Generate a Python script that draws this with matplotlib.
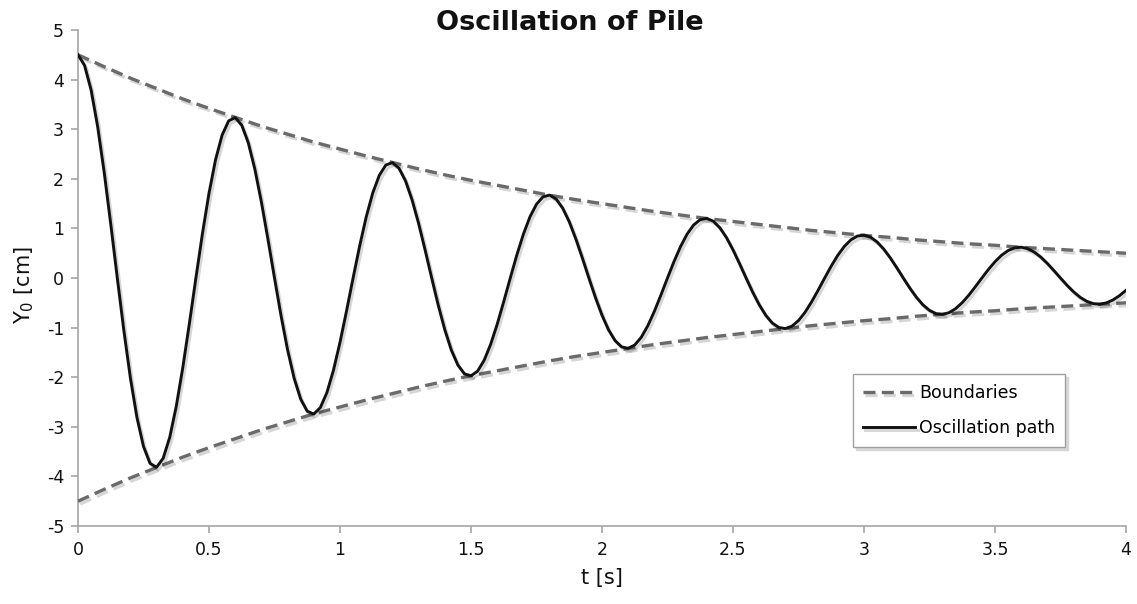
import matplotlib
matplotlib.use("Agg")
import matplotlib.pyplot as plt
import matplotlib.patheffects as pe
from matplotlib.ticker import FuncFormatter, MultipleLocator

# ---- data ----
t_bound = [round(0.1 * i, 1) for i in range(41)]
upper_bound = [4.50, 4.26, 4.03, 3.82, 3.61, 3.42, 3.24, 3.06, 2.90, 2.74,
               2.60, 2.46, 2.33, 2.20, 2.08, 1.97, 1.87, 1.77, 1.67, 1.58,
               1.50, 1.42, 1.34, 1.27, 1.20, 1.14, 1.08, 1.02, 0.96, 0.91,
               0.86, 0.82, 0.77, 0.73, 0.69, 0.66, 0.62, 0.59, 0.56, 0.53,
               0.50]
lower_bound = [-4.50, -4.26, -4.03, -3.82, -3.61, -3.42, -3.24, -3.06, -2.90, -2.74,
               -2.60, -2.46, -2.33, -2.20, -2.08, -1.97, -1.87, -1.77, -1.67, -1.58,
               -1.50, -1.42, -1.34, -1.27, -1.20, -1.14, -1.08, -1.02, -0.96, -0.91,
               -0.86, -0.82, -0.77, -0.73, -0.69, -0.66, -0.62, -0.59, -0.56, -0.53,
               -0.50]

t_path = [round(0.025 * i, 3) for i in range(161)]
y_path = [
    4.500, 4.287, 3.791, 3.053, 2.130, 1.087, 0.000, -1.058,
    -2.016, -2.812, -3.396, -3.737, -3.816, -3.635, -3.215, -2.589,
    -1.806, -0.922, 0.000, 0.897, 1.709, 2.384, 2.880, 3.168,
    3.235, 3.082, 2.726, 2.195, 1.531, 0.782, 0.000, -0.760,
    -1.449, -2.021, -2.442, -2.686, -2.743, -2.613, -2.311, -1.861,
    -1.298, -0.663, 0.000, 0.645, 1.229, 1.714, 2.070, 2.278,
    2.326, 2.216, 1.960, 1.578, 1.101, 0.562, 0.000, -0.547,
    -1.042, -1.453, -1.755, -1.931, -1.972, -1.879, -1.662, -1.338,
    -0.933, -0.476, 0.000, 0.464, 0.883, 1.232, 1.488, 1.637,
    1.672, 1.593, 1.409, 1.135, 0.791, 0.404, 0.000, -0.393,
    -0.749, -1.045, -1.262, -1.388, -1.418, -1.351, -1.195, -0.962,
    -0.671, -0.343, 0.000, 0.333, 0.635, 0.886, 1.070, 1.177,
    1.202, 1.145, 1.013, 0.816, 0.569, 0.290, 0.000, -0.283,
    -0.538, -0.751, -0.907, -0.998, -1.019, -0.971, -0.859, -0.692,
    -0.482, -0.246, 0.000, 0.240, 0.457, 0.637, 0.769, 0.846,
    0.864, 0.823, 0.728, 0.586, 0.409, 0.209, 0.000, -0.203,
    -0.387, -0.540, -0.652, -0.718, -0.733, -0.698, -0.617, -0.497,
    -0.347, -0.177, 0.000, 0.172, 0.328, 0.458, 0.553, 0.608,
    0.621, 0.592, 0.523, 0.422, 0.294, 0.150, 0.000, -0.146,
    -0.278, -0.388, -0.469, -0.516, -0.527, -0.502, -0.444, -0.357,
    -0.249,
]

title = "Oscillation of Pile"
xlabel = "t [s]"
ylabel = "Y$_0$ [cm]"
legend_labels = ["Boundaries", "Oscillation path"]

# ---- figure ----
plt.rcParams['font.family'] = ['DejaVu Sans']
plt.rcParams['mathtext.default'] = 'regular'
fig = plt.figure(figsize=(11.37, 6.04), dpi=100)
ax = fig.add_axes([0.0686, 0.1291, 0.9217, 0.8212])

shadow = [pe.SimpleLineShadow(offset=(1.5, -2.0), alpha=0.16, shadow_color='k'), pe.Normal()]

bcol = '#6a6a6a'
l1, = ax.plot(t_bound, upper_bound, color=bcol, lw=2.4, dashes=(3.6, 1.9),
              path_effects=shadow, label=legend_labels[0], zorder=3)
ax.plot(t_bound, lower_bound, color=bcol, lw=2.4, dashes=(3.6, 1.9),
        path_effects=shadow, zorder=3)
l2, = ax.plot(t_path, y_path, color='#111111', lw=2.1, path_effects=shadow,
              label=legend_labels[1], zorder=4)

ax.set_xlim(0, 4)
ax.set_ylim(-5, 5)
ax.xaxis.set_major_locator(MultipleLocator(0.5))
ax.yaxis.set_major_locator(MultipleLocator(1))
fmt = FuncFormatter(lambda v, p: '%g' % v)
ax.xaxis.set_major_formatter(fmt)
ax.yaxis.set_major_formatter(fmt)

for s in ['top', 'right']:
    ax.spines[s].set_visible(False)
for s in ['left', 'bottom']:
    ax.spines[s].set_color('#a6a6a6')
    ax.spines[s].set_linewidth(1.2)
ax.tick_params(axis='both', direction='out', length=5, width=1.2, color='#a6a6a6',
               labelsize=12.5, labelcolor='#111111')
ax.tick_params(axis='x', pad=6)
ax.tick_params(axis='y', pad=5)

ax.set_xlabel(xlabel, fontsize=15, color='#111111', labelpad=6)
ax.set_ylabel(ylabel, fontsize=15, color='#111111', labelpad=2)
ax.yaxis.set_label_coords(-0.040, 0.486)

fig.text(0.501, 0.962, title, ha='center', va='center', fontsize=19.5,
         fontweight='bold', color='#111111')

leg = ax.legend(handles=[l1, l2], loc='upper left', bbox_to_anchor=(0.7395, 0.3065),
                frameon=True, fancybox=False,
                shadow={'color': '#d0d0d0', 'alpha': 0.8, 'ox': 2, 'oy': -2},
                fontsize=12.5,
                handlelength=3.0, handletextpad=0.2, borderpad=0.6,
                labelspacing=0.95, borderaxespad=0)
leg.get_frame().set_edgecolor('#a0a0a0')
leg.get_frame().set_linewidth(1.0)

fig.savefig('out.png', dpi=100, facecolor='white')
